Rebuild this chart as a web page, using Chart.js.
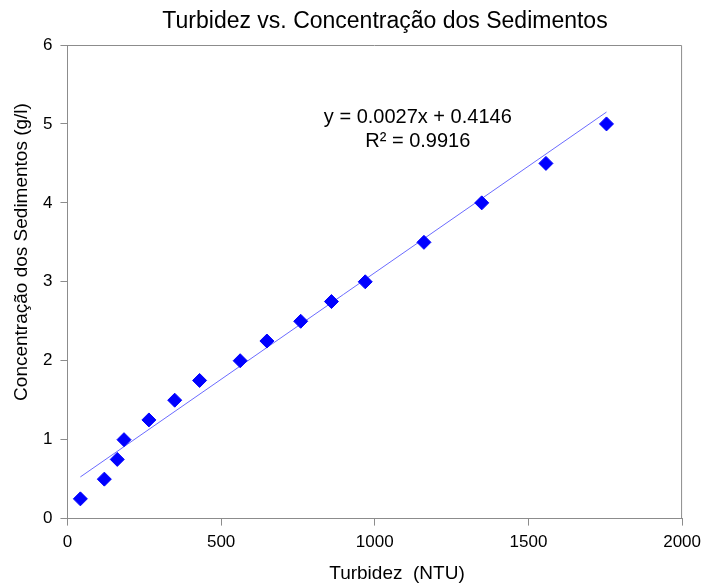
<!DOCTYPE html>
<html lang="pt">
<head>
<meta charset="UTF-8">
<title>Turbidez vs. Concentração dos Sedimentos</title>
<script src="https://cdn.jsdelivr.net/npm/chart.js"></script>
<style>
  body { margin: 0; background: #fff; }
  #wrap { width: 708px; height: 585px; }
</style>
</head>
<body>
<div id="wrap"><canvas id="grafico"></canvas></div>
<script>
// dados
const turbidez = [42, 120, 162, 184, 265, 349, 430, 562, 649, 759, 859, 969, 1160, 1348, 1557, 1754];
const concentracao = [0.25, 0.5, 0.75, 1.0, 1.25, 1.5, 1.75, 2.0, 2.25, 2.5, 2.75, 3.0, 3.5, 4.0, 4.5, 5.0];
const xTicks = [0, 500, 1000, 1500, 2000];
const yTicks = [0, 1, 2, 3, 4, 5, 6];
const inclinacao = 0.0027;
const intercepto = 0.4146;
const r2 = 0.9916;

const titulo = 'Turbidez vs. Concentração dos Sedimentos';
const tituloX = 'Turbidez  (NTU)';
const tituloY = 'Concentração dos Sedimentos (g/l)';

const xMin = Math.min(...turbidez), xMax = Math.max(...turbidez);
const tendencia = [
  { x: xMin, y: inclinacao * xMin + intercepto },
  { x: xMax, y: inclinacao * xMax + intercepto }
];

const FONT = '"Liberation Sans", Arial, sans-serif';
const CINZA = '#8c8c8c';

// moldura, títulos e equação da linha de tendência
const extras = {
  id: 'extras',
  afterDraw(chart) {
    const { ctx, chartArea: a, scales } = chart;
    ctx.save();
    ctx.strokeStyle = CINZA;
    ctx.lineWidth = 1;
    ctx.beginPath();
    ctx.moveTo(a.left, a.top + 0.5);
    ctx.lineTo(a.right - 0.5, a.top + 0.5);
    ctx.lineTo(a.right - 0.5, a.bottom);
    ctx.stroke();

    ctx.fillStyle = '#000';
    ctx.textAlign = 'center';
    ctx.textBaseline = 'middle';

    ctx.font = '23px ' + FONT;
    ctx.fillText(titulo, 385, 22);

    ctx.font = '19px ' + FONT;
    ctx.fillText(tituloX, 397, 574);
    ctx.save();
    ctx.translate(22, 252);
    ctx.rotate(-Math.PI / 2);
    ctx.fillText(tituloY, 0, 0);
    ctx.restore();

    ctx.font = '20px ' + FONT;
    const cx = scales.x.getPixelForValue(1140);
    ctx.fillText('y = ' + inclinacao + 'x + ' + intercepto, cx, scales.y.getPixelForValue(5.08));
    ctx.fillText('R² = ' + r2, cx, scales.y.getPixelForValue(4.78));
    ctx.restore();
  }
};

new Chart(document.getElementById('grafico'), {
  type: 'scatter',
  data: {
    datasets: [
      {
        label: 'Concentração',
        data: turbidez.map((t, i) => ({ x: t, y: concentracao[i] })),
        pointStyle: 'rectRot',
        pointRadius: 7,
        pointHoverRadius: 7,
        backgroundColor: '#0000ff',
        borderColor: '#0000ff',
        borderWidth: 1,
        order: 1
      },
      {
        type: 'line',
        label: 'Tendência',
        data: tendencia,
        borderColor: '#6b6bff',
        borderWidth: 1,
        pointRadius: 0,
        fill: false,
        order: 2
      }
    ]
  },
  options: {
    responsive: true,
    maintainAspectRatio: false,
    animation: false,
    layout: { padding: { left: 35, right: 16, top: 45, bottom: 25 } },
    plugins: {
      legend: { display: false },
      tooltip: { enabled: false }
    },
    scales: {
      x: {
        type: 'linear',
        min: 0,
        max: 2000,
        afterBuildTicks: s => { s.ticks = xTicks.map(v => ({ value: v })); },
        grid: { display: true, drawOnChartArea: false, drawTicks: true, tickLength: 7, color: CINZA },
        border: { display: true, color: CINZA },
        ticks: { color: '#000', font: { family: FONT, size: 17 }, padding: 7, callback: v => String(v) }
      },
      y: {
        type: 'linear',
        min: 0,
        max: 6,
        afterBuildTicks: s => { s.ticks = yTicks.map(v => ({ value: v })); },
        grid: { display: true, drawOnChartArea: false, drawTicks: true, tickLength: 7, color: CINZA },
        border: { display: true, color: CINZA },
        ticks: { color: '#000', font: { family: FONT, size: 17 }, padding: 8, callback: v => String(v) }
      }
    }
  },
  plugins: [extras]
});
</script>
</body>
</html>
